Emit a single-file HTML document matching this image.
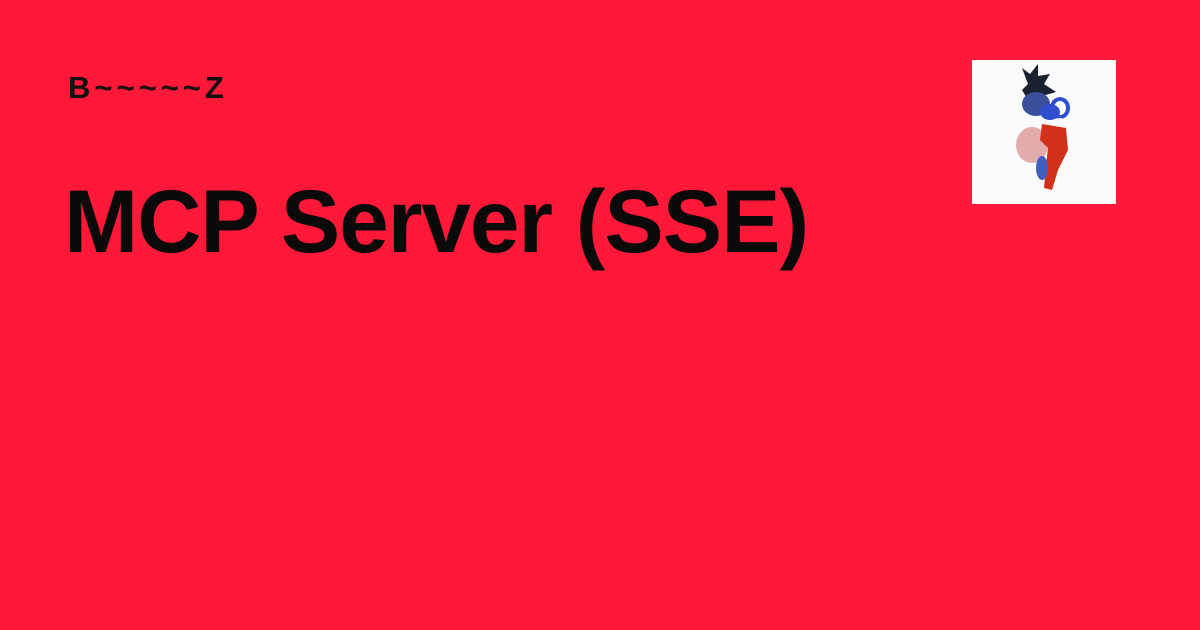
<!DOCTYPE html>
<html><head><style>
body{margin:0;width:1200px;height:630px;background:#ff1837;position:relative;overflow:hidden;font-family:"Liberation Sans",sans-serif;}
.a{position:absolute;left:68px;top:70px;font-size:31px;font-weight:bold;color:#111;letter-spacing:4px;}
.t{position:absolute;left:64px;top:170px;font-size:89px;font-weight:bold;color:#0a0a0a;letter-spacing:-1px;white-space:nowrap;}
.img{position:absolute;left:972px;top:60px;width:144px;height:144px;background:#fbfbfb;}
</style></head><body>
<div class="a">B~~~~~Z</div>
<div class="t">MCP Server (SSE)</div>
<div class="img"><svg width="144" height="144">
<path d="M50 8 L58 14 L66 4 L66 16 L78 14 L72 24 L84 32 L70 36 L56 40 L50 30 L56 24 Z" fill="#1a2230"/>
<ellipse cx="64" cy="44" rx="14" ry="12" fill="#3a4f9a"/>
<ellipse cx="88" cy="48" rx="8" ry="9" fill="#fff" stroke="#3050d0" stroke-width="4"/>
<ellipse cx="78" cy="52" rx="10" ry="8" fill="#2f4fd0"/>
<ellipse cx="60" cy="85" rx="16" ry="18" fill="#d88a8a" opacity="0.7"/>
<path d="M70 64 L94 68 L96 90 L86 110 L80 130 L72 128 L74 105 L76 88 L68 80 Z" fill="#d2301a"/>
<ellipse cx="70" cy="108" rx="6" ry="12" fill="#4060c0"/>
<circle cx="88" cy="62" r="4" fill="#fff"/>
</svg></div>
</body></html>
